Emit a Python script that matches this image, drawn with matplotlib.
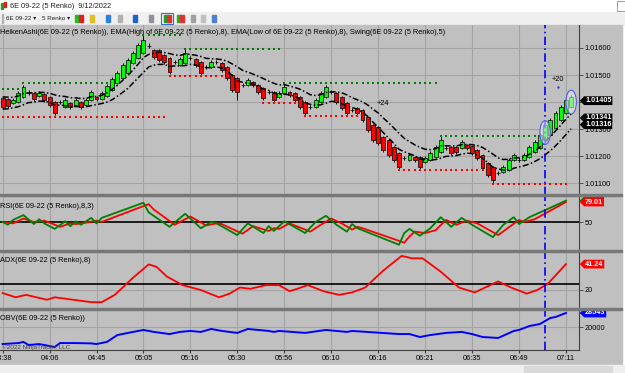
import numpy as np
import pandas as pd
import matplotlib
matplotlib.use("Agg")
from matplotlib import pyplot as plt
from matplotlib.patches import Rectangle, Ellipse
from matplotlib.path import Path

plt.rcParams['font.family'] = ['Liberation Sans', 'DejaVu Sans']

# ---- Heiken Ashi bars (6E 09-22, 5 Renko) ----
ha_open = [
    1.01415, 1.01411, 1.01396, 1.01400, 1.01419, 1.01435, 1.01433, 1.01422, 1.01430, 1.01419,
    1.01400, 1.01400, 1.01381, 1.01396, 1.01389, 1.01400, 1.01389, 1.01407, 1.01419, 1.01411,
    1.01422, 1.01444, 1.01470, 1.01489, 1.01507, 1.01544, 1.01563, 1.01581, 1.01609, 1.01593,
    1.01593, 1.01574, 1.01563, 1.01548, 1.01537, 1.01544, 1.01563, 1.01559, 1.01548, 1.01530,
    1.01530, 1.01548, 1.01544, 1.01530, 1.01500, 1.01489, 1.01463, 1.01463, 1.01474, 1.01463,
    1.01452, 1.01437, 1.01437, 1.01419, 1.01433, 1.01437, 1.01433, 1.01419, 1.01400, 1.01381,
    1.01381, 1.01400, 1.01419, 1.01437, 1.01433, 1.01419, 1.01396, 1.01370, 1.01378, 1.01370,
    1.01344, 1.01315, 1.01307, 1.01270, 1.01259, 1.01233, 1.01211, 1.01193, 1.01185, 1.01196,
    1.01196, 1.01178, 1.01185, 1.01196, 1.01215, 1.01230, 1.01233, 1.01233, 1.01230, 1.01241,
    1.01237, 1.01222, 1.01204, 1.01174, 1.01159, 1.01137, 1.01141, 1.01148, 1.01185, 1.01185,
    1.01185, 1.01196, 1.01215, 1.01230, 1.01259, 1.01278, 1.01304, 1.01333, 1.01359, 1.01381]
ha_close = [
    1.01381, 1.01385, 1.01407, 1.01433, 1.01456, 1.01435, 1.01411, 1.01433, 1.01407, 1.01389,
    1.01359, 1.01400, 1.01407, 1.01381, 1.01407, 1.01381, 1.01407, 1.01437, 1.01411, 1.01433,
    1.01459, 1.01485, 1.01507, 1.01537, 1.01556, 1.01581, 1.01611, 1.01630, 1.01609, 1.01567,
    1.01556, 1.01548, 1.01511, 1.01548, 1.01559, 1.01581, 1.01563, 1.01537, 1.01507, 1.01530,
    1.01548, 1.01548, 1.01519, 1.01489, 1.01444, 1.01437, 1.01463, 1.01481, 1.01463, 1.01437,
    1.01415, 1.01437, 1.01407, 1.01433, 1.01456, 1.01426, 1.01407, 1.01381, 1.01359, 1.01381,
    1.01407, 1.01433, 1.01456, 1.01437, 1.01400, 1.01378, 1.01359, 1.01370, 1.01359, 1.01333,
    1.01296, 1.01259, 1.01248, 1.01222, 1.01204, 1.01185, 1.01159, 1.01193, 1.01204, 1.01185,
    1.01159, 1.01193, 1.01211, 1.01233, 1.01259, 1.01230, 1.01211, 1.01215, 1.01252, 1.01230,
    1.01211, 1.01193, 1.01156, 1.01130, 1.01111, 1.01137, 1.01159, 1.01185, 1.01204, 1.01185,
    1.01204, 1.01233, 1.01252, 1.01278, 1.01315, 1.01333, 1.01359, 1.01381, 1.01407, 1.01419]
ha_high = [
    1.01419, 1.01415, 1.01414, 1.01440, 1.01463, 1.01443, 1.01437, 1.01440, 1.01434, 1.01423,
    1.01404, 1.01408, 1.01414, 1.01400, 1.01414, 1.01404, 1.01414, 1.01444, 1.01423, 1.01440,
    1.01466, 1.01492, 1.01514, 1.01544, 1.01563, 1.01588, 1.01618, 1.01648, 1.01617, 1.01597,
    1.01597, 1.01578, 1.01567, 1.01556, 1.01566, 1.01596, 1.01571, 1.01563, 1.01552, 1.01538,
    1.01555, 1.01556, 1.01548, 1.01534, 1.01504, 1.01493, 1.01471, 1.01488, 1.01478, 1.01467,
    1.01456, 1.01445, 1.01441, 1.01440, 1.01470, 1.01441, 1.01437, 1.01423, 1.01404, 1.01389,
    1.01414, 1.01440, 1.01463, 1.01445, 1.01437, 1.01423, 1.01400, 1.01378, 1.01382, 1.01374,
    1.01348, 1.01319, 1.01311, 1.01274, 1.01263, 1.01237, 1.01215, 1.01201, 1.01211, 1.01200,
    1.01200, 1.01200, 1.01218, 1.01240, 1.01274, 1.01238, 1.01237, 1.01237, 1.01259, 1.01245,
    1.01241, 1.01226, 1.01208, 1.01178, 1.01163, 1.01145, 1.01166, 1.01192, 1.01211, 1.01193,
    1.01211, 1.01240, 1.01259, 1.01285, 1.01322, 1.01340, 1.01366, 1.01388, 1.01414, 1.01426]
ha_low = [
    1.01374, 1.01378, 1.01392, 1.01396, 1.01415, 1.01427, 1.01404, 1.01418, 1.01400, 1.01382,
    1.01352, 1.01392, 1.01377, 1.01374, 1.01385, 1.01374, 1.01385, 1.01403, 1.01404, 1.01407,
    1.01418, 1.01440, 1.01466, 1.01485, 1.01503, 1.01540, 1.01559, 1.01577, 1.01601, 1.01560,
    1.01549, 1.01541, 1.01504, 1.01540, 1.01533, 1.01540, 1.01555, 1.01530, 1.01500, 1.01522,
    1.01526, 1.01540, 1.01512, 1.01482, 1.01437, 1.01407, 1.01455, 1.01459, 1.01456, 1.01430,
    1.01408, 1.01429, 1.01396, 1.01415, 1.01429, 1.01419, 1.01400, 1.01374, 1.01348, 1.01373,
    1.01377, 1.01396, 1.01415, 1.01429, 1.01393, 1.01371, 1.01352, 1.01362, 1.01352, 1.01326,
    1.01289, 1.01252, 1.01241, 1.01215, 1.01197, 1.01178, 1.01148, 1.01185, 1.01181, 1.01178,
    1.01152, 1.01174, 1.01181, 1.01192, 1.01211, 1.01222, 1.01204, 1.01208, 1.01226, 1.01223,
    1.01204, 1.01186, 1.01149, 1.01123, 1.01096, 1.01129, 1.01137, 1.01144, 1.01181, 1.01177,
    1.01181, 1.01192, 1.01211, 1.01226, 1.01255, 1.01274, 1.01300, 1.01329, 1.01355, 1.01377]

# swing high / low levels: (first bar, last bar, price)
swing_high = [(0, 3, 1.01448), (4, 20, 1.01470), (27, 34, 1.01648),
              (35, 53, 1.01596), (54, 83, 1.01470), (84, 103, 1.01274)]
swing_low = [(0, 31, 1.01344), (32, 42, 1.01496), (50, 56, 1.01396),
             (58, 69, 1.01348), (76, 92, 1.01148), (94, 108, 1.01096)]

# RSI(8,3): green = RSI, red = average
rsi_x = [0, 1, 2, 4, 6, 7, 8, 10, 12, 13, 14, 15, 17, 18, 19, 27, 28, 32, 35, 38,
         40, 41, 45, 47, 50, 51, 52, 54, 58, 60, 62, 64, 66, 67, 68, 76, 77, 78, 80, 82,
         84, 86, 88, 90, 94, 96, 98, 99, 101, 108]
rsi_val = [50, 46, 53, 60, 47, 54, 48, 40, 51, 44, 51, 46, 56, 48, 56, 78, 64, 43, 62, 41,
           50, 48, 31, 48, 34, 44, 37, 51, 34, 50, 59, 46, 36, 47, 41, 17, 34, 40, 30, 41,
           57, 43, 56, 46, 28, 46, 57, 47, 57, 81]
rsi_avg_x = [0, 2, 4, 6, 8, 9, 11, 13, 14, 16, 18, 19, 20, 28, 29, 33, 36, 39, 41, 42,
             46, 48, 51, 52, 53, 55, 59, 61, 63, 65, 67, 68, 69, 77, 78, 79, 81, 83, 85, 87,
             89, 91, 95, 97, 99, 100, 102, 108]
rsi_avg = [50, 48, 55, 50, 52, 49, 43, 48, 47, 49, 52, 50, 53, 76, 68, 46, 58, 45, 48, 47,
           33, 44, 37, 41, 40, 48, 36, 46, 55, 48, 39, 43, 41, 20, 29, 36, 34, 38, 53, 46,
           52, 48, 31, 42, 53, 50, 54, 79.01]

# ADX(8)
adx_x = [0, 2.5, 4.5, 8.5, 10, 13.5, 17, 19, 21.5, 25, 28, 29.5, 31.5, 34.5, 38, 41.5,
         43.5, 45.5, 47.5, 50.5, 53, 55, 56.5, 58.5, 61.5, 64.5, 67, 69.5, 73, 76.5, 78.5,
         80.5, 84, 87.5, 90.5, 92.5, 95, 97.5, 100.5, 102.5, 104.5, 108]
adx_val = [17.5, 14, 16, 12, 14, 12, 10, 10, 16, 30, 41, 39, 31, 24, 20, 14, 17, 22, 21,
           24, 24, 19, 21, 24, 19, 16, 18, 22, 36, 48, 46, 46, 35, 22, 18, 22, 27, 22, 17,
           20, 25, 41.24]

# OBV
obv_x = [0, 3, 4, 5, 7, 10, 11, 14, 17, 18, 20, 22, 25, 27, 29, 32, 34, 36, 38, 40, 42,
         45, 47, 51, 52, 53, 58, 62, 66, 67, 76, 78, 80, 82, 85, 88, 90, 92, 95, 98, 99,
         101, 103, 105, 106, 108]
obv_val = [9600, 10200, 10900, 9000, 9600, 7800, 10200, 10200, 10000, 9600, 10900, 15100,
           17000, 18200, 17000, 15700, 17000, 17600, 17000, 18800, 17600, 16400, 18800,
           17600, 17000, 17600, 16400, 18200, 17000, 17600, 15700, 15700, 13900, 15100,
           16400, 17000, 15700, 13900, 13300, 17600, 18200, 20600, 21800, 25500, 26100, 28543]

time_ticks = [0, 9, 18, 27, 36, 45, 54, 63, 72, 81, 90, 99, 108]
time_labels = ["03:38", "04:06", "04:45", "05:05", "05:16", "05:30", "05:56",
               "06:10", "06:16", "06:21", "06:35", "06:49", "07:11"]
price_ticks = [1.011, 1.012, 1.013, 1.014, 1.015, 1.016]
price_labels = ["1.01100", "1.01200", "1.01300", "", "1.01500", "1.01600"]
signal_bar = 104

W, H = 625, 373
BG = '#c0c0c0'
FS = 5.3

fig = plt.figure(figsize=(W / 100, H / 100), dpi=100)
fig.patch.set_facecolor('white')


def box(x0, y0, x1, y1):
    return [x0 / W, 1 - y1 / H, (x1 - x0) / W, (y1 - y0) / H]


def frect(x0, y0, x1, y1, **kw):
    fig.add_artist(Rectangle((x0 / W, 1 - y1 / H), (x1 - x0) / W, (y1 - y0) / H,
                             transform=fig.transFigure, **kw))


def ftext(x, y, s, **kw):
    fig.text(x / W, 1 - y / H, s, va='center', **kw)


# window chrome
frect(0, 12, 625, 25, color='#f0f0f0', zorder=0)
frect(0, 25, 622, 365, color=BG, zorder=0)
frect(0, 365, 625, 373, color='#f0f0f0', zorder=0)
frect(524, 366, 612, 373, color='#dadada', zorder=1)
frect(617, 1, 625, 11, facecolor='white', edgecolor='#9090a0', lw=0.6, zorder=1)
frect(1, 3, 3, 9, color='#20a020', zorder=1)
frect(4, 2, 6, 7, color='#e02020', zorder=1)
ftext(10, 6, "6E 09-22 (5 Renko)  9/12/2022", fontsize=FS, color='#202020')
ftext(6, 18.5, "6E 09-22 \u25be", fontsize=4.5, color='#202020')
ftext(42, 18.5, "5 Renko \u25be", fontsize=4.5, color='#202020')
frect(2, 14, 2.6, 23, color='#b0b0b0', zorder=1)
icons = [(75, '#20c020'), (79, '#e02020'), (90, '#e0c020'), (106, '#3080e0'),
         (118, '#b0b0b0'), (133, '#2060d0'), (149, '#9090a0'), (164, '#20a020'),
         (167, '#e03030'), (177, '#20b020'), (180, '#e03030'), (191, '#a0a0a0'),
         (201, '#c0c0c0'), (212, '#5080d0')]
for xi, ci in icons:
    frect(xi, 15, xi + 4, 22, color=ci, zorder=1)
frect(161, 13.5, 173, 23.5, facecolor='none', edgecolor='#3070d0', lw=0.8, zorder=2)

ax_p = fig.add_axes(box(0, 25, 579, 195))
ax_r = fig.add_axes(box(0, 195, 579, 251), sharex=ax_p)
ax_a = fig.add_axes(box(0, 251, 579, 309), sharex=ax_p)
ax_o = fig.add_axes(box(0, 309, 579, 350), sharex=ax_p)
axes = [ax_p, ax_r, ax_a, ax_o]

for ax in axes:
    ax.set_facecolor(BG)
    ax.patch.set_alpha(0)
    for s in ['left', 'top', 'bottom']:
        ax.spines[s].set_visible(False)
    ax.spines['right'].set_color('#404040')
    ax.yaxis.tick_right()
    ax.tick_params(axis='y', labelsize=FS, length=3, width=0.6, color='#404040', pad=1)
    ax.tick_params(axis='x', bottom=False, labelbottom=False)
    ax.set_xticks(time_ticks)
    ax.grid(axis='x', color='#a4a4a4', lw=0.8)
    ax.set_axisbelow(True)
    ax.axvline(signal_bar, color='#0000ff', lw=1.2, ls=(0, (5, 2, 1, 2)), zorder=6)
ax_o.spines['bottom'].set_visible(True)
ax_o.spines['bottom'].set_color('#404040')
ax_o.tick_params(axis='x', bottom=True, labelbottom=True, labelsize=FS, length=2,
                 color='#404040', pad=1.5)
ax_o.set_xticklabels(time_labels)
ax_p.set_xlim(-0.5, 110.5)

# panel separators
for yy in [195, 251, 309]:
    frect(0, yy - 1, 622, yy + 0.6, color='#787878', zorder=5)

# ---- price panel ----
x = np.arange(len(ha_close))
o = np.array(ha_open)
c = np.array(ha_close)
colors = ['#00ff00' if cc > oo else ('#ff0000' if cc < oo else 'black') for oo, cc in zip(o, c)]
ax_p.vlines(x, ha_low, ha_high, color='black', lw=0.7, zorder=2)
ax_p.bar(x, c - o, bottom=o, width=0.75, color=colors, edgecolor='black', lw=0.5, zorder=3)

ema_hi = pd.Series(ha_high).ewm(span=8, adjust=False).mean()
ema_lo = pd.Series(ha_low).ewm(span=8, adjust=False).mean()
ax_p.plot(x, ema_hi, color='black', lw=1.1, ls=(0, (4, 1.5, 1, 1.5)), zorder=4)
ax_p.plot(x, ema_lo, color='black', lw=1.1, ls=(0, (4, 1.5, 1, 1.5)), zorder=4)

for a, b, lvl in swing_high:
    xs = np.arange(a, b + 1)
    ax_p.scatter(xs, [lvl] * len(xs), marker='s', s=3.5, color='#008000', lw=0, zorder=4)
for a, b, lvl in swing_low:
    xs = np.arange(a, b + 1)
    ax_p.scatter(xs, [lvl] * len(xs), marker='s', s=3.5, color='#ff0000', lw=0, zorder=4)

for bi in [signal_bar, len(x) - 1]:
    mid = (ha_open[bi] + ha_close[bi]) / 2
    ax_p.add_patch(Ellipse((bi, mid), 2.0, 0.00088, facecolor=(0.92, 0.92, 0.97, 0.55),
                           edgecolor='#5060e0', lw=0.8, zorder=7))
ax_p.text(73, 1.01393, "+24", fontsize=FS, ha='center', va='center', zorder=5)
ax_p.text(106.5, 1.01485, "+20", fontsize=FS, ha='center', va='center', zorder=5)
ax_p.plot([106.5], [1.01456], marker='.', ms=1.5, color='#4040c0', zorder=5)

ax_p.set_ylim(1.01056, 1.01685)
ax_p.set_yticks(price_ticks)
ax_p.set_yticklabels(price_labels)
ax_p.grid(axis='y', color='#a4a4a4', lw=0.8)

# ---- RSI ----
ax_r.plot(rsi_avg_x, rsi_avg, color='#ff0000', lw=1.3, zorder=3)
ax_r.plot(rsi_x, rsi_val, color='#008000', lw=1.3, zorder=3)
ax_r.axhline(50, color='black', lw=1.2, zorder=2)
ax_r.set_ylim(7.9, 89.2)
ax_r.set_yticks([50])

# ---- ADX ----
ax_a.plot(adx_x, adx_val, color='#ff0000', lw=1.3, zorder=3)
ax_a.axhline(25, color='black', lw=1.2, zorder=2)
ax_a.set_ylim(4.4, 52)
ax_a.set_yticks([20])
ax_a.grid(axis='y', color='#a4a4a4', lw=0.8)

# ---- OBV ----
ax_o.plot(obv_x, obv_val, color='#0000ff', lw=1.4, zorder=3)
ax_o.set_ylim(5970, 30980)
ax_o.set_yticks([20000])
ax_o.grid(axis='y', color='#a4a4a4', lw=0.8)


def tag_shape(x0, y0, width, height, mutation_size):
    pad = 0.12 * mutation_size
    x0, y0 = x0 - pad, y0 - pad
    x1, y1 = x0 + width + 2 * pad, y0 + height + 2 * pad
    tip = (y1 - y0) / 2
    return Path([(x0, y0), (x1, y0), (x1, y1), (x0, y1), (x0 - tip, (y0 + y1) / 2), (x0, y0)],
                closed=True)


def tag(ax, y, s, fc, tc='white'):
    ax.text(1 + 6 / 579, y, s, transform=ax.get_yaxis_transform(), ha='left', va='center',
            fontsize=5.2, fontweight='bold', color=tc, clip_on=False, zorder=10,
            bbox=dict(boxstyle=tag_shape, fc=fc, ec='none'))


tag(ax_p, 1.01405, "1.01405", 'black')
tag(ax_p, 1.01341, "1.01341", 'black')
tag(ax_p, 1.01316, "1.01316", 'black')
tag(ax_r, 81, "79.01", '#008000', tc='#008000')
tag(ax_r, 79.01, "79.01", '#ff0000')
tag(ax_a, 41.24, "41.24", '#ff0000')
tag(ax_o, 28543, "28543", '#0000ff')

# indicator captions
ftext(0, 32, "HeikenAshi(6E 09-22 (5 Renko)), EMA(High of 6E 09-22 (5 Renko),8), "
      "EMA(Low of 6E 09-22 (5 Renko),8), Swing(6E 09-22 (5 Renko),5)", fontsize=FS, zorder=8)
ftext(0, 206, "RSI(6E 09-22 (5 Renko),8,3)", fontsize=FS, zorder=8)
ftext(0, 260, "ADX(6E 09-22 (5 Renko),8)", fontsize=FS, zorder=8)
ftext(0, 319, "OBV(6E 09-22 (5 Renko))", fontsize=FS, zorder=8)
ftext(2, 347, "\u00a92022 NinjaTrader, LLC", fontsize=4.6, color='#404040', zorder=8)

fig.savefig('out.png', dpi=100)
